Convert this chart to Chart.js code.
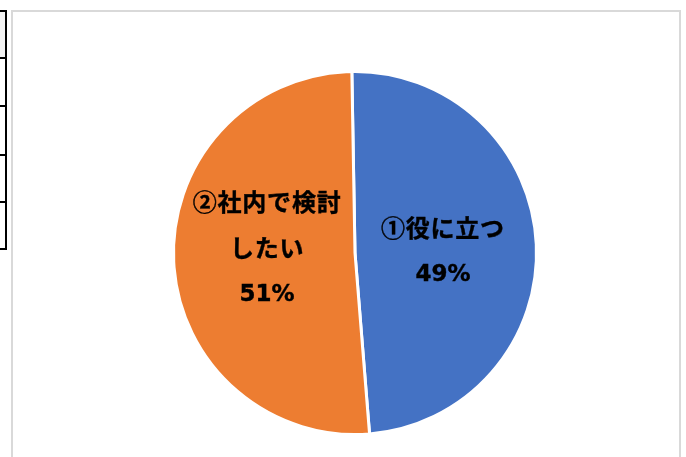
<!DOCTYPE html>
<html><head><meta charset="utf-8">
<script src="https://cdn.jsdelivr.net/npm/chart.js@4.4.1/dist/chart.umd.min.js"></script>
<style>
html,body{margin:0;padding:0;background:#fff;width:686px;height:457px;overflow:hidden;}
#wrap{position:absolute;left:0;top:0;width:686px;height:457px;}
.frame{position:absolute;left:11px;top:10px;width:666px;height:460px;border-left:2px solid #d9d9d9;border-top:2px solid #d9d9d9;border-right:2px solid #d9d9d9;}
.tv{position:absolute;left:5px;top:10px;width:2px;height:240px;background:#000;}
.th{position:absolute;left:0;width:7px;height:2px;background:#000;}
.cell{position:absolute;left:0;top:12px;width:5px;height:46px;background:#f2f2f2;}
canvas{position:absolute;left:0;top:0;}
</style></head>
<body>
<div id="wrap">
<div class="cell"></div>
<div class="tv"></div>
<div class="th" style="top:10px"></div>
<div class="th" style="top:57px"></div>
<div class="th" style="top:105px"></div>
<div class="th" style="top:154px"></div>
<div class="th" style="top:201px"></div>
<div class="th" style="top:248px"></div>
<div class="frame"></div>
<canvas id="c" width="686" height="457"></canvas>
</div>
<script>
const categories = ['①役に立つ', '②社内で検討したい'];
const values = [49, 51];
const labelLines = [['①役に立つ'], ['②社内で検討', 'したい']];
const colors = ['#4472C4', '#ED7D31'];

const labelPlugin = {
  id: 'sliceLabels',
  afterDatasetsDraw(chart, args, opts) {
    const ctx = chart.ctx;
    const meta = chart.getDatasetMeta(0);
    const total = values.reduce((a, b) => a + b, 0);
    ctx.save();
    ctx.fillStyle = '#000';
    ctx.textAlign = 'center';
    ctx.textBaseline = 'middle';
    meta.data.forEach((arc, i) => {
      const p = arc.getProps(['x', 'y', 'startAngle', 'endAngle', 'outerRadius'], true);
      const mid = (p.startAngle + p.endAngle) / 2;
      const r = p.outerRadius * opts.radiusFactor;
      const cx = p.x + Math.cos(mid) * r;
      const cy = p.y + Math.sin(mid) * r + opts.dy[i];
      const lines = labelLines[i].concat([Math.round(values[i] / total * 100) + '%']);
      const lh = opts.lineHeight;
      const y0 = cy - (lines.length - 1) * lh / 2;
      lines.forEach((t, k) => {
        const isPct = k === lines.length - 1;
        ctx.font = isPct ? opts.pctFont : opts.font;
        if ('letterSpacing' in ctx) ctx.letterSpacing = isPct ? '0px' : opts.letterSpacing;
        const y = y0 + k * lh + (isPct ? 1 : 0);
        ctx.fillText(t, cx, y);
        ctx.lineWidth = 0.4; ctx.strokeStyle = '#000';
        ctx.strokeText(t, cx, y);
      });
    });
    ctx.restore();
  }
};

new Chart(document.getElementById('c'), {
  type: 'pie',
  data: {
    labels: categories,
    datasets: [{
      data: values,
      backgroundColor: colors,
      borderColor: '#ffffff',
      borderWidth: 3
    }]
  },
  options: {
    responsive: false,
    animation: false,
    rotation: -1,
    layout: { padding: { left: 100, right: 76, top: 70, bottom: 21 } },
    plugins: {
      legend: { display: false },
      tooltip: { enabled: false },
      sliceLabels: {
        font: 'bold 24px "Noto Sans CJK JP"',
        pctFont: 'bold 23px "DejaVu Sans"',
        letterSpacing: '0.8px',
        radiusFactor: 0.485,
        lineHeight: 46,
        dy: [2, -9]
      }
    }
  },
  plugins: [labelPlugin]
});
</script>
</body></html>
